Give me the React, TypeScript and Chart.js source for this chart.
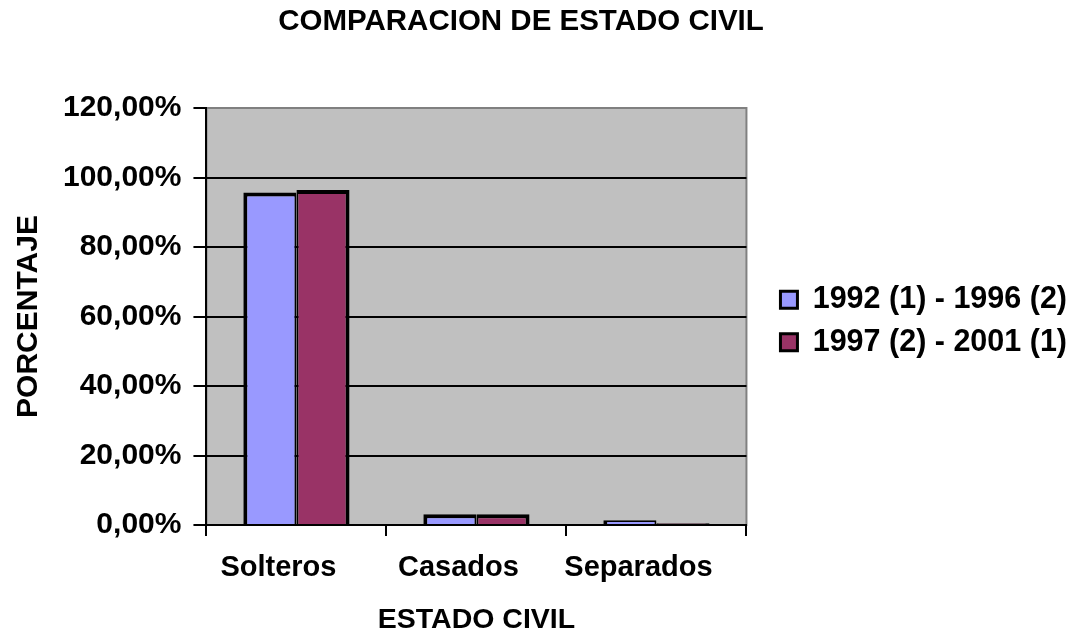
import React, { useEffect, useRef } from "react";
import { Chart, registerables } from "chart.js";

Chart.register(...registerables);

const categories = ["Solteros", "Casados", "Separados"];
const seriesNames = ["1992 (1) - 1996 (2)", "1997 (2) - 2001 (1)"];
const series1992 = [95.7, 3.1, 1.4];
const series1997 = [96.4, 3.1, 0.5];
const yTicks = [0, 20, 40, 60, 80, 100, 120];

const FONT = "'Liberation Sans', Arial, sans-serif";

const plotBg = {
  id: "plotBg",
  afterLayout(chart: any) {
    const t = chart.titleBlock;
    if (t) t.right -= 46;
    const l = chart.legend;
    if (l) {
      l.top += 3;
      l.bottom += 3;
    }
  },
  beforeDraw(chart: any) {
    const { ctx, chartArea } = chart;
    if (!chartArea) return;
    ctx.save();
    ctx.fillStyle = "#C0C0C0";
    ctx.fillRect(chartArea.left, chartArea.top, chartArea.right - chartArea.left, chartArea.bottom - chartArea.top);
    ctx.strokeStyle = "#808080";
    ctx.lineWidth = 2;
    ctx.strokeRect(chartArea.left, chartArea.top, chartArea.right - chartArea.left, chartArea.bottom - chartArea.top);
    ctx.restore();
  },
};

export default function App() {
  const ref = useRef<HTMLCanvasElement | null>(null);
  useEffect(() => {
    document.body.style.margin = "0";
    const canvas = ref.current!;
    const chart = new Chart(canvas, {
      type: "bar",
      data: {
        labels: categories,
        datasets: [
          {
            label: seriesNames[0],
            data: series1992,
            backgroundColor: "#9999FF",
            borderColor: "#000000",
            borderWidth: { left: 4, top: 4, right: 2, bottom: 0 },
            borderSkipped: false,
          },
          {
            label: seriesNames[1],
            data: series1997,
            backgroundColor: "#993366",
            borderColor: "#000000",
            borderWidth: { left: 2, top: 4, right: 4, bottom: 0 },
            borderSkipped: false,
          },
        ],
      },
      options: {
        animation: false,
        responsive: false,
        maintainAspectRatio: false,
        datasets: { bar: { categoryPercentage: 0.59, barPercentage: 1 } } as any,
        layout: { padding: { left: 11, right: -2, top: 0, bottom: 0 } },
        plugins: {
          title: {
            display: true,
            text: "COMPARACION DE ESTADO CIVIL",
            color: "#000",
            font: { family: FONT, size: 29.5, weight: "bold" },
            padding: { top: 4, bottom: 68.6 },
          },
          legend: {
            position: "right",
            maxWidth: 400,
            labels: {
              color: "#000",
              font: { family: FONT, size: 30.5, weight: "bold" },
              boxWidth: 17,
              boxHeight: 17,
              padding: 12,
              generateLabels: (chart: any) =>
                chart.data.datasets.map((ds: any, i: number) => ({
                  text: ds.label,
                  fillStyle: ds.backgroundColor,
                  strokeStyle: "#000",
                  lineWidth: 3,
                  datasetIndex: i,
                  hidden: false,
                })),
            },
          },
          tooltip: { enabled: false },
        },
        scales: {
          x: {
            offset: true,
            grid: {
              offset: true,
              drawOnChartArea: false,
              drawTicks: true,
              tickLength: 11,
              color: "#000",
              lineWidth: 2,
            },
            border: { color: "#000", width: 2 },
            ticks: {
              color: "#000",
              font: { family: FONT, size: 29, weight: "bold" },
              padding: 15,
              labelOffset: -18,
              maxRotation: 0,
            },
            title: {
              display: true,
              text: "ESTADO CIVIL",
              color: "#000",
              font: { family: FONT, size: 28.5, weight: "bold", lineHeight: 1.1 },
              padding: { top: 3.85, bottom: 0 },
            },
          },
          y: {
            min: 0,
            max: 120,
            afterBuildTicks: (axis: any) => {
              axis.ticks = yTicks.map((v) => ({ value: v }));
            },
            grid: {
              color: (ctx: any) => (ctx.tick && ctx.tick.value === 120 ? "#808080" : "#000"),
              tickColor: "#000",
              lineWidth: 2,
              tickLength: 13,
            },
            border: { color: "#000", width: 2 },
            ticks: {
              color: "#000",
              font: { family: FONT, size: 30, weight: "bold" },
              padding: 12,
              callback: (v: any) => Number(v).toFixed(2).replace(".", ",") + "%",
            },
            title: {
              display: true,
              text: "PORCENTAJE",
              color: "#000",
              font: { family: FONT, size: 30, weight: "bold" },
              padding: { top: 0, bottom: 4 },
            },
          },
          gap: {
            type: "linear",
            position: "right",
            display: false,
            afterFit: (axis: any) => {
              axis.width = 22;
            },
          } as any,
        },
      },
      plugins: [plotBg],
    });
    return () => chart.destroy();
  }, []);
  return (
    <div style={{ width: 1075, height: 636, background: "#fff" }}>
      <canvas ref={ref} width={1075} height={636} style={{ display: "block" }} />
    </div>
  );
}
